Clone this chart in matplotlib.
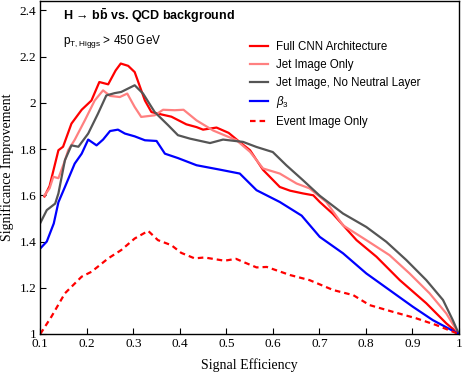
import numpy as np
import matplotlib
matplotlib.use("Agg")
import matplotlib.pyplot as plt

plt.rcParams['mathtext.fontset'] = 'custom'
plt.rcParams['mathtext.rm'] = 'Liberation Sans'
plt.rcParams['mathtext.it'] = 'Liberation Sans:italic'
plt.rcParams['mathtext.bf'] = 'Liberation Sans:bold'

# Full CNN Architecture
full_x = [0.109, 0.12, 0.139, 0.149, 0.167, 0.189, 0.21, 0.227, 0.246, 0.262, 0.273, 0.289,
          0.303, 0.325, 0.339, 0.36, 0.382, 0.414, 0.436, 0.45, 0.479, 0.505, 0.529, 0.551,
          0.579, 0.615, 0.637, 0.665, 0.687, 0.701, 0.729, 0.78, 0.823, 0.873, 0.93, 0.973, 1.0]
full_y = [1.595, 1.64, 1.795, 1.81, 1.91, 1.97, 2.01, 2.09, 2.08, 2.14, 2.17, 2.16,
          2.133, 2.01, 1.96, 1.95, 1.94, 1.907, 1.895, 1.884, 1.893, 1.87, 1.83, 1.795,
          1.71, 1.636, 1.62, 1.608, 1.60, 1.571, 1.52, 1.406, 1.334, 1.233, 1.133, 1.046, 1.0]

# Jet Image Only
jet_x = [0.109, 0.12, 0.128, 0.139, 0.153, 0.16, 0.174, 0.196, 0.217, 0.235, 0.25, 0.271,
         0.287, 0.303, 0.317, 0.346, 0.364, 0.389, 0.408, 0.436, 0.472, 0.522, 0.551,
         0.579, 0.615, 0.651, 0.679, 0.715, 0.751, 0.801, 0.851, 0.894, 0.937, 0.973, 1.0]
jet_y = [1.60, 1.63, 1.68, 1.674, 1.75, 1.795, 1.84, 1.925, 2.01, 2.054, 2.03, 2.025,
         2.04, 1.982, 1.939, 1.946, 1.97, 1.968, 1.97, 1.924, 1.88, 1.838, 1.788,
         1.716, 1.694, 1.651, 1.63, 1.571, 1.47, 1.406, 1.341, 1.262, 1.176, 1.089, 1.0]

# Jet Image, No Neutral Layer
nn_x = [0.1, 0.114, 0.132, 0.139, 0.153, 0.167, 0.182, 0.203, 0.224, 0.242, 0.26, 0.274,
        0.303, 0.321, 0.346, 0.375, 0.396, 0.422, 0.465, 0.493, 0.536, 0.565, 0.6,
        0.629, 0.665, 0.701, 0.751, 0.801, 0.844, 0.887, 0.93, 0.966, 0.987, 1.0]
nn_y = [1.48, 1.536, 1.564, 1.608, 1.752, 1.816, 1.81, 1.867, 1.953, 2.032, 2.042, 2.047,
        2.076, 2.04, 1.96, 1.903, 1.86, 1.845, 1.826, 1.841, 1.831, 1.809, 1.787,
        1.73, 1.665, 1.598, 1.521, 1.463, 1.399, 1.32, 1.233, 1.147, 1.06, 1.0]

# beta_3
b3_x = [0.1, 0.114, 0.129, 0.139, 0.153, 0.174, 0.189, 0.203, 0.221, 0.235, 0.25, 0.267,
        0.282, 0.303, 0.325, 0.35, 0.368, 0.396, 0.436, 0.486, 0.529, 0.565, 0.615,
        0.662, 0.701, 0.751, 0.801, 0.851, 0.901, 0.944, 1.0]
b3_y = [1.37, 1.40, 1.478, 1.57, 1.636, 1.737, 1.78, 1.841, 1.816, 1.841, 1.878, 1.884,
        1.867, 1.855, 1.838, 1.835, 1.78, 1.761, 1.73, 1.711, 1.694, 1.622, 1.571,
        1.512, 1.42, 1.349, 1.262, 1.19, 1.118, 1.06, 1.0]

# Event Image Only
ev_x = [0.1, 0.124, 0.153, 0.189, 0.21, 0.246, 0.274, 0.303, 0.332, 0.353, 0.382, 0.403,
        0.432, 0.453, 0.496, 0.521, 0.536, 0.565, 0.587, 0.637, 0.679, 0.73, 0.773,
        0.808, 0.858, 0.908, 0.951, 0.987, 1.0]
ev_y = [1.0, 1.075, 1.176, 1.248, 1.269, 1.327, 1.363, 1.413, 1.446, 1.406, 1.384, 1.351,
        1.327, 1.331, 1.317, 1.325, 1.312, 1.288, 1.29, 1.255, 1.233, 1.19, 1.168,
        1.125, 1.096, 1.068, 1.039, 1.01, 1.0]

fig = plt.figure(figsize=(4.63, 3.74), dpi=100)
ax = fig.add_axes([0.087, 0.107, 0.904, 0.89])

ax.plot(full_x, full_y, color='#ff0000', lw=1.6, label='Full CNN Architecture')
ax.plot(jet_x, jet_y, color='#ff8080', lw=1.6, label='Jet Image Only')
ax.plot(nn_x, nn_y, color='#555555', lw=1.6, label='Jet Image, No Neutral Layer')
ax.plot(b3_x, b3_y, color='#0000ff', lw=1.6, label=r'$\beta_3$')
ax.plot(ev_x, ev_y, color='#ff0000', lw=1.6, ls='--', dashes=(2.5, 1.8), label='Event Image Only')

ax.set_xlim(0.1, 1.0)
ax.set_ylim(1.0, 2.44)
ax.set_xticks([0.1, 0.2, 0.3, 0.4, 0.5, 0.6, 0.7, 0.8, 0.9, 1.0])
ax.set_xticklabels(['0.1', '0.2', '0.3', '0.4', '0.5', '0.6', '0.7', '0.8', '0.9', '1'])
ax.set_yticks([1.0, 1.2, 1.4, 1.6, 1.8, 2.0, 2.2, 2.4])
ax.set_yticklabels(['1', '1.2', '1.4', '1.6', '1.8', '2', '2.2', '2.4'])
ax.tick_params(direction='in', length=4, labelsize=9.5, pad=3)
for lab in ax.get_xticklabels() + ax.get_yticklabels():
    lab.set_family('Liberation Serif')
for sp in ax.spines.values():
    sp.set_linewidth(1.0)

ax.set_xlabel('Signal Efficiency', family='Liberation Serif', fontsize=10, labelpad=6)
ax.set_ylabel('Significance Improvement', family='Liberation Serif', fontsize=10, labelpad=4)

ax.text(0.055, 0.955, r'H → b$\mathbf{\bar{b}}$ vs. QCD background', transform=ax.transAxes,
        family='Liberation Sans', fontweight='bold', fontsize=9, va='center')
ax.text(0.055, 0.878, r'$\mathrm{p}_{\mathrm{T,Higgs}}$ > 450 GeV', transform=ax.transAxes,
        family='Liberation Sans', fontsize=8.5, va='center')

leg = ax.legend(loc='upper left', bbox_to_anchor=(0.501, 0.88), frameon=False,
                borderaxespad=0, borderpad=0,
                prop={'family': 'Liberation Sans', 'size': 8.3}, handlelength=1.55,
                handletextpad=0.7, labelspacing=0.5)

fig.savefig('out.png', dpi=100)
